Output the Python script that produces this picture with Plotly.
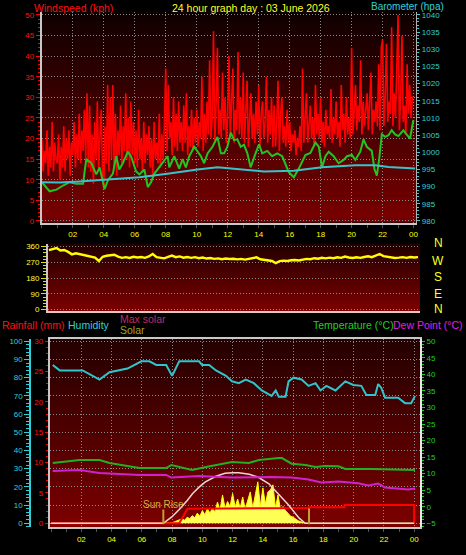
import plotly.graph_objects as go

W, H = 466, 555
FONT = "Liberation Sans"

# ---------------- data ----------------
hour_ticks = [2, 4, 6, 8, 10, 12, 14, 16, 18, 20, 22, 24]
hour_labels = ["02", "04", "06", "08", "10", "12", "14", "16", "18", "20", "22", "00"]

# wind gust (kph), one value every 5 minutes from 00:00 to 24:00
gust_kph = [
    20, 12, 17, 14, 22, 11, 18, 13, 24, 12, 19, 15,
    14, 21, 10, 18, 13, 23, 12, 20, 15, 22, 11, 19,
    16, 24, 13, 21, 15, 26, 14, 22, 17, 27, 15, 31,
    13, 28, 12, 21, 9, 24, 15, 29, 13, 22, 27, 12,
    8, 23, 14, 33, 12, 30, 15, 33, 13, 26, 11, 22,
    16, 28, 14, 23, 17, 31, 15, 25, 13, 29, 16, 24,
    14, 22, 13, 27, 15, 20, 12, 24, 14, 21, 16, 23,
    13, 20, 11, 24, 15, 19, 14, 26, 13, 21, 15, 24,
    37, 17, 33, 20, 24, 16, 30, 18, 26, 17, 29, 19,
    24, 17, 28, 19, 31, 16, 23, 18, 27, 17, 25, 19,
    27, 18, 24, 20, 35, 17, 26, 19, 29, 21, 39, 20,
    25, 46, 19, 28, 42, 21, 27, 20, 36, 22, 30, 19,
    26, 40, 20, 29, 37, 19, 27, 22, 41, 21, 30, 20,
    36, 19, 27, 34, 18, 25, 31, 20, 26, 19, 29, 21,
    33, 18, 26, 29, 20, 24, 35, 19, 27, 21, 30, 18,
    28, 18, 24, 34, 17, 26, 30, 19, 23, 18, 27, 19,
    24, 17, 21, 19, 22, 16, 20, 18, 23, 17, 37, 19,
    24, 31, 19, 23, 28, 20, 25, 18, 33, 21, 26, 20,
    30, 19, 24, 18, 27, 21, 23, 20, 32, 19, 25, 21,
    29, 20, 24, 18, 33, 22, 26, 19, 30, 21, 25, 20,
    42, 21, 27, 33, 22, 28, 24, 39, 21, 29, 23, 27,
    31, 22, 28, 36, 21, 27, 24, 29, 23, 38, 22, 42,
    44, 23, 30, 43, 24, 29, 26, 47, 23, 31, 25, 39,
    50, 22, 30, 45, 24, 28, 21, 38, 26, 33, 25, 30,
    30,
]

# average wind speed (kph)
avg_time_h = [0.0, 0.5, 0.95, 1.37, 1.8, 2.23, 2.66, 2.87, 3.2, 3.52, 3.73, 4.05, 4.27,
              4.59, 4.8, 5.0, 5.23, 5.55, 5.77, 6.09, 6.3, 6.62, 6.84, 7.05, 7.27, 7.6,
              7.8, 8.12, 8.23, 8.55, 8.87, 9.09, 9.3, 9.52, 9.84, 10.05, 10.27, 10.48,
              10.7, 11.02, 11.34, 11.56, 11.77, 11.98, 12.2, 12.41, 12.62, 12.84, 13.05,
              13.27, 13.48, 13.8, 14.02, 14.23, 14.55, 14.87, 15.2, 15.52, 15.73, 15.95,
              16.27, 16.59, 17.02, 17.34, 17.67, 17.88, 18.09, 18.31, 18.52, 18.84, 19.16,
              19.49, 19.7, 20.02, 20.24, 20.56, 20.77, 20.98, 21.3, 21.48, 21.63, 21.78,
              21.95, 22.17, 22.38, 22.59, 22.81, 23.02, 23.34, 23.56, 23.77, 23.99]
avg_kph = [9.4, 7.2, 7.6, 8.6, 9.4, 9.0, 9.0, 15.0, 14.0, 11.3, 13.0, 7.7, 9.9,
           11.5, 15.7, 12.5, 14.0, 16.8, 15.6, 12.0, 11.3, 12.5, 8.2, 9.4, 11.5, 13.2,
           14.0, 15.7, 13.0, 15.7, 12.7, 15.0, 13.0, 15.7, 18.0, 17.0, 15.7, 14.0,
           16.4, 18.0, 20.4, 16.4, 16.4, 18.0, 21.4, 19.6, 19.8, 18.0, 18.5,
           16.4, 13.0, 16.4, 18.6, 16.4, 17.0, 15.7, 16.4, 15.7, 14.0, 11.8,
           10.6, 12.7, 16.0, 16.5, 19.0, 18.0, 13.0, 15.7, 16.8, 15.7, 14.0,
           14.8, 15.7, 16.0, 14.8, 16.8, 19.8, 18.0, 17.0, 12.5, 11.0, 15.0,
           21.0, 20.4, 20.8, 22.0, 21.0, 20.6, 22.0, 21.0, 20.0, 24.5]

# barometer (hPa)
baro_time_h = [0.0, 1.16, 2.44, 4.16, 6.3, 8.23, 10.05, 11.34, 12.2, 13.27, 14.34,
               16.27, 18.09, 20.24, 21.52, 22.38, 24.1]
baro_hpa = [991.3, 991.2, 991.5, 992.1, 992.7, 993.8, 995.0, 995.6, 995.3, 994.9, 994.4,
            994.6, 995.6, 996.2, 996.2, 995.7, 995.3]

# wind direction (degrees), every 15 minutes
dir_deg = [340, 346, 352, 338, 341, 330, 316, 322, 318, 312, 308, 303, 298, 278, 302, 308,
           311, 314, 303, 296, 300, 295, 302, 298, 301, 296, 304, 318, 300, 296, 293, 301,
           309, 300, 304, 297, 301, 296, 300, 294, 298, 292, 295, 290, 293, 288, 292, 289,
           291, 287, 290, 286, 289, 292, 299, 288, 284, 281, 278, 266, 277, 280, 278, 282,
           284, 281, 286, 290, 288, 294, 291, 296, 293, 297, 294, 299, 296, 303, 298, 295,
           299, 296, 301, 305, 300, 308, 318, 306, 302, 298, 295, 297, 300, 296, 301, 298,
           300]

# humidity (%)
hum_time_h = [0.11, 0.57, 2.09, 3.2, 3.86, 4.52, 5.05, 5.97, 6.5, 6.95, 7.61, 8.0, 8.47,
              9.78, 9.98, 10.45, 10.9, 11.56, 11.96, 12.41, 12.87, 13.4, 13.93, 14.58,
              14.85, 15.05, 15.5, 15.7, 16.03, 16.56, 17.02, 17.48, 17.81, 18.2, 18.8,
              19.45, 19.98, 20.51, 20.84, 21.43, 21.62, 21.82, 22.08, 22.94, 23.4, 23.8,
              24.06]
hum_pct = [87, 84, 84, 79, 83, 84, 85, 89, 89, 87, 87, 81, 89,
           89, 87, 87, 84, 81, 78, 77, 79, 77, 73, 70,
           73, 69.5, 69.5, 78, 80, 79, 75.5, 77, 73, 75.5, 73,
           78, 76, 75.5, 70.5, 70.5, 76.5, 74.5, 69, 69, 66, 66,
           70]

# temperature and dew point (deg C)
temp_time_h = [0.11, 1.89, 3.2, 3.86, 5.84, 7.61, 7.94, 9.32, 10.24, 11.96, 13.07, 13.73,
               15.05, 15.26, 15.9, 16.82, 17.48, 18.14, 19.0, 19.45, 21.16, 24.06]
temp_c = [13.2, 14.1, 14.1, 13.2, 11.7, 11.7, 12.6, 11.1, 12.0, 13.5, 13.2, 14.1,
          14.7, 14.7, 13.0, 12.6, 12.0, 12.3, 12.2, 11.4, 11.4, 11.1]
dew_time_h = [0.11, 1.89, 3.2, 5.84, 7.61, 7.94, 9.78, 11.96, 14.58, 15.9, 17.02, 17.87,
              19.0, 20.3, 20.97, 21.62, 22.08, 23.6, 24.06]
dew_c = [10.8, 11.1, 10.2, 9.6, 9.6, 8.8, 9.3, 8.8, 9.0, 8.8, 8.2, 7.3,
         7.6, 7.1, 6.4, 7.0, 5.8, 5.2, 5.5]

# rainfall (mm)
rain_time_h = [0.0, 8.47, 9.02, 17.05, 17.05, 19.4, 19.4, 24.0, 24.0]
rain_mm = [0.0, 0.0, 2.4, 2.5, 2.65, 2.65, 3.0, 3.0, 0.0]

# max solar (W/m2)
maxsolar_time_h = [0.0, 7.42, 8.0, 8.47, 9.0, 9.36, 9.8, 10.2, 10.9, 11.5, 12.0, 12.4, 13.1,
                   13.7, 14.4, 15.0, 15.7, 16.4, 16.8, 24.0]
maxsolar_wm2 = [0, 0, 130, 270, 450, 590, 720, 820, 930, 990, 1000, 1000, 970,
                910, 780, 590, 360, 100, 0, 0]

# solar (W/m2), every 10 minutes from 08:00 to 17:00
solar_wm2 = [10, 30, 50, 70, 90, 60, 120, 90, 150, 110, 200, 140, 250, 170, 290, 200, 300,
             220, 420, 260, 560, 300, 430, 330, 590, 320, 480, 300, 520, 280, 450, 620,
             300, 560, 820, 330, 700, 380, 620, 660, 760, 300, 560, 270, 330, 250, 200,
             140, 120, 80, 50, 30, 10, 0, 0]

sunrise_h = 7.42
sunset_h = 17.05

# ---------------- helpers ----------------
def fx(px):
    return px / W


def fy(py):
    return 1 - py / H


def hexc(rgb):
    return "#%02x%02x%02x" % tuple(int(round(v)) for v in rgb)


shapes = []


def gradient(left, top, right, bottom, c_top, c_bot, n=48):
    for k in range(n):
        t = (k + 0.5) / n
        col = [c_top[i] + (c_bot[i] - c_top[i]) * t for i in range(3)]
        y0 = top + (bottom - top) * k / n
        y1 = top + (bottom - top) * (k + 1) / n + 0.6
        shapes.append(dict(type="rect", xref="paper", yref="paper", layer="below",
                           x0=fx(left), x1=fx(right), y0=fy(min(y1, bottom)), y1=fy(y0),
                           fillcolor=hexc(col), line=dict(width=0)))


gradient(42, 9.7, 418, 223, (14, 0, 0), (122, 0, 0))
gradient(48.3, 244.3, 421.7, 312.3, (34, 0, 0), (124, 0, 0))
gradient(50, 340.7, 421.7, 531, (36, 0, 0), (124, 0, 0))

GRID = "#8a8a8a"
GDASH = "1px,2px"
FRAME = "#c8c8c8"

gust_time_h = [i / 12 for i in range(len(gust_kph))]
dir_time_h = [i * 0.25 for i in range(len(dir_deg))]
solar_time_h = [0.0] + [8.0 + i / 6 for i in range(len(solar_wm2))] + [24.0]
solar_vals = [0] + solar_wm2 + [0]

fig = go.Figure()

# top panel
fig.add_trace(go.Scatter(x=gust_time_h, y=gust_kph, mode="lines",
                         line=dict(color="#ff0000", width=1.6), xaxis="x", yaxis="y"))
fig.add_trace(go.Scatter(x=avg_time_h, y=avg_kph, mode="lines",
                         line=dict(color="#22c422", width=2), xaxis="x", yaxis="y"))
fig.add_trace(go.Scatter(x=baro_time_h, y=baro_hpa, mode="lines",
                         line=dict(color="#36c4cc", width=2), xaxis="x", yaxis="y2"))

# middle panel
fig.add_trace(go.Scatter(x=dir_time_h, y=dir_deg, mode="lines",
                         line=dict(color="#ffff00", width=2.4), xaxis="x2", yaxis="y3"))

# bottom panel
fig.add_trace(go.Scatter(x=solar_time_h, y=solar_vals, mode="lines", fill="tozeroy",
                         fillcolor="#ffff55", line=dict(color="#ffff00", width=1),
                         xaxis="x3", yaxis="y4"))
fig.add_trace(go.Scatter(x=rain_time_h, y=rain_mm, mode="lines",
                         line=dict(color="#ff0000", width=2), xaxis="x3", yaxis="y5"))
fig.add_trace(go.Scatter(x=maxsolar_time_h, y=maxsolar_wm2, mode="lines",
                         line=dict(color="#f0d4d4", width=1.5), xaxis="x3", yaxis="y6"))
fig.add_trace(go.Scatter(x=hum_time_h, y=hum_pct, mode="lines",
                         line=dict(color="#30c4cc", width=2), xaxis="x3", yaxis="y7"))
fig.add_trace(go.Scatter(x=temp_time_h, y=temp_c, mode="lines",
                         line=dict(color="#22b022", width=2), xaxis="x3", yaxis="y8"))
fig.add_trace(go.Scatter(x=dew_time_h, y=dew_c, mode="lines",
                         line=dict(color="#d020d0", width=2), xaxis="x3", yaxis="y8"))


def tf(color, size=8):
    return dict(color=color, size=size, family=FONT)


xcommon = dict(tickmode="array", tickvals=hour_ticks, ticktext=hour_labels,
               tickfont=tf("#ffff00"), ticks="outside", ticklen=3, tickcolor="#505050",
               minor=dict(tickmode="linear", tick0=0, dtick=1, ticks="outside", ticklen=3,
                          tickcolor="#505050", showgrid=False),
               showgrid=True, gridcolor=GRID, griddash=GDASH, gridwidth=1,
               showline=True, linecolor=FRAME, linewidth=2, zeroline=False)

hum_lo, hum_hi = -2.2, 101.25

fig.update_layout(
    width=W, height=H, margin=dict(l=0, r=0, t=0, b=0),
    paper_bgcolor="#000000", plot_bgcolor="rgba(0,0,0,0)", showlegend=False,
    xaxis=dict(domain=[fx(42), fx(418)], range=[0, 24.17], anchor="y", **xcommon),
    yaxis=dict(domain=[fy(223), fy(9.7)], range=[-0.4, 50.8], anchor="x",
               tickmode="linear", tick0=0, dtick=5, tickfont=tf("#ff1010"),
               ticks="outside", ticklen=4, tickcolor="#ff0000",
               minor=dict(dtick=1, ticks="outside", ticklen=2, tickcolor="#ff0000", showgrid=False),
               showgrid=True, gridcolor=GRID, griddash=GDASH, showline=True,
               linecolor=FRAME, linewidth=2, zeroline=False),
    yaxis2=dict(overlaying="y", anchor="x", side="right", range=[979.52, 1040.96],
                tickmode="linear", tick0=980, dtick=5, tickfont=tf("#30d0d8"),
                ticks="outside", ticklen=3, tickcolor="#30d0d8",
                minor=dict(dtick=1, ticks="outside", ticklen=2, tickcolor="#30d0d8", showgrid=False),
                showgrid=False, showline=True, linecolor="#b0b0b0", linewidth=1, zeroline=False),
    xaxis2=dict(domain=[fx(48.3), fx(421.7)], range=[-0.05, 24.12], anchor="y3",
                showticklabels=False, ticks="", showgrid=False, showline=True,
                linecolor="#e8c4c4", linewidth=2, zeroline=False),
    yaxis3=dict(domain=[fy(312.3), fy(244.3)], range=[-7.3, 377], anchor="x2",
                tickmode="array", tickvals=[0, 90, 180, 270, 360], tickfont=tf("#ffff30"),
                ticks="outside", ticklen=5, tickcolor="#e0e000",
                minor=dict(tickmode="linear", tick0=0, dtick=18, ticks="outside", ticklen=3,
                           tickcolor="#e0e000", showgrid=False),
                showgrid=True, gridcolor=GRID, griddash=GDASH, showline=True,
                linecolor=FRAME, linewidth=2, zeroline=False),
    xaxis3=dict(domain=[fx(50), fx(421.7)], range=[-0.086, 24.38], anchor="y4",
                mirror=True, **xcommon),
    yaxis4=dict(domain=[fy(531), fy(340.7)], range=[hum_lo * 36, hum_hi * 36],
                anchor="x3", visible=False),
    yaxis5=dict(overlaying="y4", anchor="x3", side="left", range=[hum_lo * 0.3, hum_hi * 0.3],
                tickmode="linear", tick0=0, dtick=5, tickfont=tf("#ff1010"),
                ticks="outside", ticklen=3, tickcolor="#ff0000",
                minor=dict(dtick=1, ticks="outside", ticklen=2, tickcolor="#ff0000", showgrid=False),
                showgrid=False, showline=True, linecolor=FRAME, linewidth=2, zeroline=False),
    yaxis6=dict(overlaying="y4", anchor="x3", range=[hum_lo * 36, hum_hi * 36], visible=False),
    yaxis7=dict(overlaying="y4", anchor="free", position=fx(30.5), side="left",
                range=[hum_lo, hum_hi], tickmode="linear", tick0=0, dtick=10,
                tickfont=tf("#30d0d8"), ticks="outside", ticklen=5, tickcolor="#30d0d8",
                minor=dict(dtick=2, ticks="outside", ticklen=3, tickcolor="#30d0d8", showgrid=False),
                showgrid=True, gridcolor=GRID, griddash=GDASH, showline=True,
                linecolor="#30d0d8", linewidth=2, zeroline=False),
    yaxis8=dict(overlaying="y4", anchor="x3", side="right",
                range=[-5 + hum_lo * 0.55, -5 + hum_hi * 0.55],
                tickmode="linear", tick0=-5, dtick=5, tickfont=tf("#20d020"),
                ticks="outside", ticklen=3, tickcolor="#20d020",
                minor=dict(dtick=1, ticks="outside", ticklen=2, tickcolor="#20d020", showgrid=False),
                showgrid=False, showline=True, linecolor="#e8e8e8", linewidth=2, zeroline=False),
)

# sunrise / sunset markers
shapes.append(dict(type="line", xref="x3", yref="paper", x0=sunrise_h, x1=sunrise_h,
                   y0=fy(528), y1=fy(513), line=dict(color="#c0a030", width=2)))
shapes.append(dict(type="line", xref="x3", yref="paper", x0=sunset_h, x1=sunset_h,
                   y0=fy(528), y1=fy(512), line=dict(color="#c0a030", width=2)))
fig.update_layout(shapes=shapes)


def label(text, x, y, color, size=10.5, anchor="center"):
    fig.add_annotation(text=text, x=fx(x), y=fy(y), xref="paper", yref="paper",
                       xanchor=anchor, yanchor="middle", showarrow=False,
                       font=dict(color=color, size=size, family=FONT))


label("Windspeed (kph)", 74, 6, "#ff1010")
label("24 hour graph day : 03 June 2026", 252, 6, "#ffff20")
label("Barometer (hpa)", 409, 5, "#30d0d8", size=10)
for txt, yy in zip(["N", "W", "S", "E", "N"], [244, 262, 278, 295, 310]):
    label(txt, 440, yy, "#ffff20", size=12)
label("Rainfall (mm)", 0, 327, "#ff1010", anchor="left")
label("Humidity", 66, 327, "#30d0d8", anchor="left")
label("Max solar", 119, 320, "#c02a66", anchor="left")
label("Solar", 119, 332, "#a8a020", anchor="left")
label("Temperature (\u00b0C)", 312, 327, "#20d020", anchor="left")
label("Dew Point (\u00b0C)", 393, 327, "#e020e0", anchor="left")
fig.add_annotation(text="Sun Rise", x=sunrise_h, y=fy(508), xref="x3", yref="paper",
                   xanchor="center", yanchor="middle", showarrow=False,
                   font=dict(color="#d0b040", size=10, family=FONT))

fig.write_html("out.html", config={"displayModeBar": False},
               post_script="document.body.style.margin='0';document.body.style.background='#000';")
